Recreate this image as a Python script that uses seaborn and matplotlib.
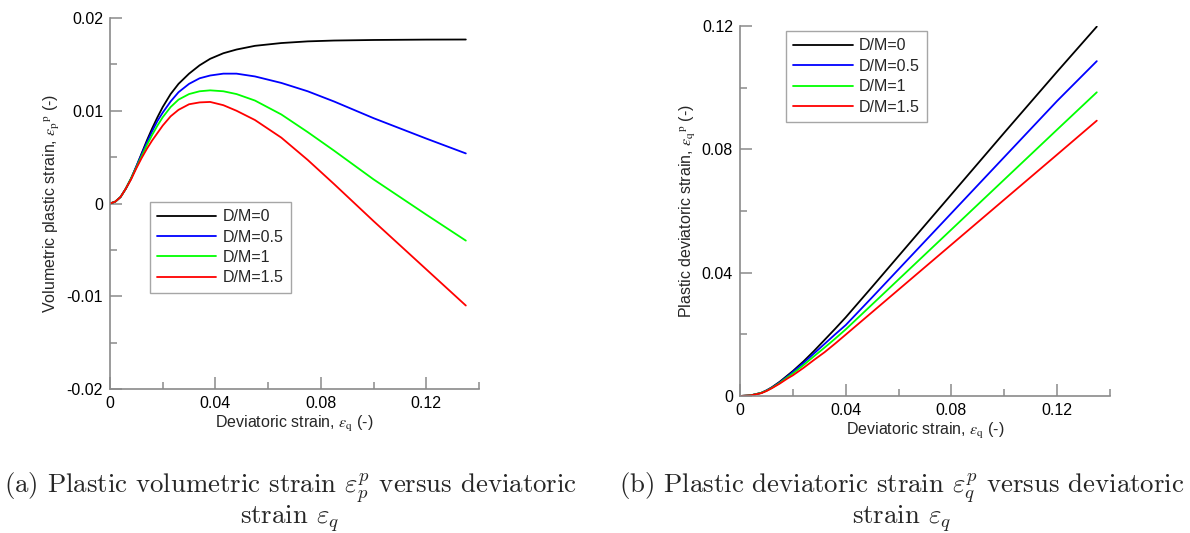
import numpy as np
import pandas as pd
import matplotlib
matplotlib.use("Agg")
import matplotlib.pyplot as plt
import seaborn as sns
from matplotlib.ticker import MultipleLocator, FuncFormatter

# ---------------- data ----------------
labels = ["D/M=0", "D/M=0.5", "D/M=1", "D/M=1.5"]
colors = ["#000000", "#0000ff", "#00ff00", "#ff0000"]

# (a) volumetric plastic strain vs deviatoric strain
x_a = [0, 0.002, 0.004, 0.006, 0.008, 0.010, 0.012, 0.014, 0.016, 0.018, 0.020,
       0.023, 0.026, 0.030, 0.034, 0.038, 0.043, 0.048, 0.055, 0.065, 0.075,
       0.085, 0.100, 0.110, 0.120, 0.135]
vol_dm0 = [0, 0.0002, 0.0007, 0.0016, 0.0027, 0.0040, 0.0054, 0.0068, 0.0081, 0.0093, 0.0104,
           0.0118, 0.0129, 0.0140, 0.0149, 0.0156, 0.0162, 0.0166, 0.0170, 0.0173, 0.01748,
           0.01757, 0.01763, 0.01765, 0.01767, 0.01768]
vol_dm05 = [0, 0.0002, 0.0007, 0.0016, 0.0027, 0.0040, 0.0053, 0.0066, 0.0078, 0.0089, 0.0098,
            0.0110, 0.0120, 0.0129, 0.0135, 0.0138, 0.0140, 0.0140, 0.0137, 0.0130, 0.0121,
            0.0110, 0.0092, 0.0081, 0.0070, 0.0054]
vol_dm1 = [0, 0.0002, 0.0007, 0.0016, 0.0027, 0.0039, 0.0051, 0.0063, 0.0074, 0.0084, 0.0093,
           0.0104, 0.0112, 0.0118, 0.0121, 0.0122, 0.0121, 0.0118, 0.0111, 0.0096, 0.0077,
           0.0057, 0.0026, 0.0007, -0.0012, -0.0040]
vol_dm15 = [0, 0.0002, 0.0007, 0.0016, 0.0026, 0.0038, 0.0049, 0.0059, 0.0068, 0.0076, 0.0084,
            0.0094, 0.0101, 0.0107, 0.0109, 0.01095, 0.0106, 0.0100, 0.0090, 0.0071, 0.0047,
            0.0021, -0.0019, -0.0045, -0.0071, -0.0110]

# (b) plastic deviatoric strain vs deviatoric strain
x_b = [0, 0.004, 0.008, 0.010, 0.012, 0.015, 0.018, 0.020, 0.024, 0.028, 0.032, 0.036,
       0.040, 0.050, 0.060, 0.080, 0.100, 0.120, 0.135]
dev_dm0 = [0, 0.0002, 0.0010, 0.0018, 0.0028, 0.0046, 0.0067, 0.0081, 0.0112, 0.0146, 0.0182,
           0.0218, 0.0255, 0.0354, 0.0454, 0.0654, 0.0854, 0.1052, 0.1198]
dev_dm05 = [0, 0.0002, 0.0010, 0.0018, 0.0027, 0.0044, 0.0064, 0.0078, 0.0107, 0.0138, 0.0169,
            0.0200, 0.0230, 0.0320, 0.0411, 0.0593, 0.0775, 0.0957, 0.1086]
dev_dm1 = [0, 0.0002, 0.0010, 0.0017, 0.0026, 0.0042, 0.0061, 0.0073, 0.0100, 0.0129, 0.0157,
           0.0186, 0.0216, 0.0297, 0.0378, 0.0540, 0.0702, 0.0864, 0.0985]
dev_dm15 = [0, 0.0002, 0.0009, 0.0016, 0.0025, 0.0040, 0.0057, 0.0067, 0.0091, 0.0117, 0.0142,
            0.0170, 0.0199, 0.0272, 0.0345, 0.0491, 0.0637, 0.0783, 0.0893]

caption_a = [r"(a) Plastic volumetric strain $\varepsilon_p^p$ versus deviatoric",
             r"strain $\varepsilon_q$"]
caption_b = [r"(b) Plastic deviatoric strain $\varepsilon_q^p$ versus deviatoric",
             r"strain $\varepsilon_q$"]


def long_frame(x, series):
    rows = []
    for lab, ys in zip(labels, series):
        for xi, yi in zip(x, ys):
            rows.append((xi, yi, lab))
    return pd.DataFrame(rows, columns=["x", "y", "case"])


df_a = long_frame(x_a, [vol_dm0, vol_dm05, vol_dm1, vol_dm15])
df_b = long_frame(x_b, [dev_dm0, dev_dm05, dev_dm1, dev_dm15])

# ---------------- style ----------------
sns.set_theme(style="white")
plt.rcParams["font.family"] = ["Liberation Sans", "DejaVu Sans"]
plt.rcParams["mathtext.fontset"] = "cm"

W, H = 1190, 533
fig = plt.figure(figsize=(W / 100, H / 100), dpi=100)


def ax_rect(l, t, r, b):
    return [l / W, 1 - b / H, (r - l) / W, (b - t) / H]


ax_a = fig.add_axes(ax_rect(110, 18, 479, 389))
ax_b = fig.add_axes(ax_rect(740, 26, 1110, 396))

palette = dict(zip(labels, colors))
spine_c = "#8a8a8a"
fs = 11.5


def fmt(v, pos):
    if abs(v) < 1e-12:
        return "0"
    return ("%.2f" % v).rstrip("0")


for ax, df in [(ax_a, df_a), (ax_b, df_b)]:
    sns.lineplot(data=df, x="x", y="y", hue="case", palette=palette, hue_order=labels,
                 estimator=None, sort=False, lw=1.3, ax=ax)
    ax.set_xlim(0, 0.14)
    ax.xaxis.set_major_locator(MultipleLocator(0.04))
    ax.xaxis.set_minor_locator(MultipleLocator(0.02))
    ax.xaxis.set_major_formatter(FuncFormatter(fmt))
    ax.yaxis.set_major_formatter(FuncFormatter(fmt))
    for s in ["top", "right"]:
        ax.spines[s].set_visible(False)
    for s in ["left", "bottom"]:
        ax.spines[s].set_color(spine_c)
        ax.spines[s].set_linewidth(1.2)
    ax.tick_params(which="major", direction="in", length=8.4, width=1.1, color=spine_c,
                   labelsize=fs, pad=5, labelcolor="black")
    ax.tick_params(which="minor", direction="in", length=4.8, width=1.1, color=spine_c)
    ax.tick_params(axis="x", which="both", bottom=True)
    ax.tick_params(axis="y", which="both", left=True)
    ax.set_xlabel(r"Deviatoric strain, $\epsilon_{\mathrm{q}}$ (-)", fontsize=fs, labelpad=2,
                  math_fontfamily="stix")
    ax.grid(False)

ax_a.set_ylim(-0.02, 0.02)
ax_a.yaxis.set_major_locator(MultipleLocator(0.01))
ax_a.yaxis.set_minor_locator(MultipleLocator(0.005))
ax_a.set_ylabel(r"Volumetric plastic strain, $\epsilon_{\mathrm{p}}{}^{\mathrm{p}}$ (-)",
                fontsize=fs, labelpad=3, math_fontfamily="stix")

ax_b.set_ylim(0, 0.12)
ax_b.yaxis.set_major_locator(MultipleLocator(0.04))
ax_b.yaxis.set_minor_locator(MultipleLocator(0.02))
ax_b.set_ylabel(r"Plastic deviatoric strain, $\epsilon_{\mathrm{q}}{}^{\mathrm{p}}$ (-)",
                fontsize=fs, labelpad=3, math_fontfamily="stix")

leg_kw = dict(loc="upper left", borderaxespad=0, frameon=True, fancybox=False,
              fontsize=fs, handlelength=3.7, handletextpad=0.4, labelspacing=0.34,
              borderpad=0.45, title=None)
for ax, anchor in [(ax_a, (0.108, 0.504)), (ax_b, (0.125, 0.986))]:
    leg = ax.legend(bbox_to_anchor=anchor, **leg_kw)
    leg.get_frame().set_edgecolor("#909090")
    leg.get_frame().set_linewidth(1.0)
    for line in leg.get_lines():
        line.set_linewidth(1.3)

# captions (two lines each, serif Computer Modern)
cap_fs = 19.3
for cx, lines in [(290, caption_a), (902, caption_b)]:
    fig.text(cx / W, 1 - 493 / H, lines[0], ha="center", va="baseline", fontsize=cap_fs,
             family="cmr10")
    fig.text(cx / W, 1 - 524 / H, lines[1], ha="center", va="baseline", fontsize=cap_fs,
             family="cmr10")

fig.savefig("out.png", dpi=100)
